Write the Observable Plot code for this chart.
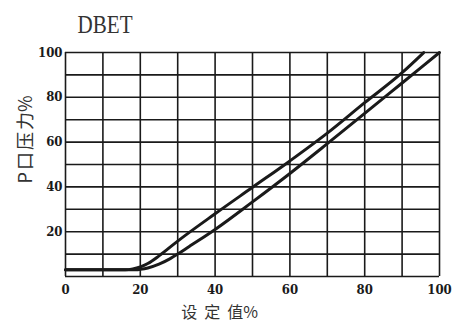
<!DOCTYPE html>
<html>
<head>
<meta charset="utf-8">
<script src="https://cdn.jsdelivr.net/npm/d3@7"></script>
<script src="https://cdn.jsdelivr.net/npm/@observablehq/plot@0.6"></script>
<style>
  html, body { margin: 0; padding: 0; background: #fff; }
</style>
</head>
<body>
<div id="chart"></div>
<script>
const title = "DBET";
const xLabel = "设定值%";
const yLabel = "P口压力%";
const xTicks = [0, 20, 40, 60, 80, 100];
const yTicks = [20, 40, 60, 80, 100];
const gridX = [0, 10, 20, 30, 40, 50, 60, 70, 80, 90, 100];
const gridY = [0, 10, 20, 30, 40, 50, 60, 70, 80, 90, 100];

// upper (left) curve
const upperX = [0, 16, 18, 20, 22, 25, 30, 40, 50, 60, 70, 80, 90, 95.8];
const upperY = [3, 3, 3.4, 4.3, 5.8, 9.2, 15.8, 28, 39.8, 51.6, 64, 77.6, 91, 100];
// lower (right) curve
const lowerX = [0, 19, 20, 22, 25, 28, 30, 33, 40, 50, 60, 70, 80, 90, 100];
const lowerY = [3, 3, 3.2, 3.8, 5.5, 8, 10, 13.3, 21, 33.3, 46, 59.3, 72.8, 86.4, 100];

const upper = upperX.map((x, i) => ({x, y: upperY[i]}));
const lower = lowerX.map((x, i) => ({x, y: lowerY[i]}));

const ink = "#1a1a1a";
const tickFont = "'DejaVu Serif Condensed', 'DejaVu Serif', serif";
const cjkFont = "'Noto Sans CJK SC', sans-serif";

const svg = Plot.plot({
  width: 456,
  height: 329,
  marginLeft: 65,
  marginRight: 17,
  marginTop: 52,
  marginBottom: 53,
  x: {domain: [0, 100]},
  y: {domain: [0, 100]},
  style: {background: "#fff", color: ink, overflow: "visible"},
  marks: [
    Plot.ruleX(gridX, {stroke: ink, strokeWidth: 1.6}),
    Plot.ruleY(gridY, {stroke: ink, strokeWidth: 1.6}),
    Plot.line(upper, {x: "x", y: "y", curve: "monotone-x", stroke: ink, strokeWidth: 3}),
    Plot.line(lower, {x: "x", y: "y", curve: "monotone-x", stroke: ink, strokeWidth: 3}),
    Plot.axisX(xTicks, {tickSize: 0, tickPadding: 8, label: null, fontSize: 13, fontWeight: "bold", fontFamily: tickFont, fill: ink}),
    Plot.axisY(yTicks, {tickSize: 0, tickPadding: 3, label: null, fontSize: 13, fontWeight: "bold", fontFamily: tickFont, fill: ink}),
    Plot.text([title], {frameAnchor: "top-left", text: d => d, dx: 12, dy: -20, lineAnchor: "bottom", textAnchor: "start", fontSize: 25, fontFamily: "'Liberation Serif', serif", fill: "#333"}),
    Plot.text([xLabel], {frameAnchor: "bottom", text: d => d, dx: -33, dy: 36, lineAnchor: "middle", fontSize: 16, fontFamily: cjkFont, fill: "#333"}),
    Plot.text([yLabel], {frameAnchor: "left", text: d => d, dx: -39, dy: 19, rotate: -90, lineAnchor: "middle", fontSize: 18, fontFamily: cjkFont, fill: "#333"})
  ]
});

const root = d3.select(svg);
root.selectAll("text").filter(function() { return this.textContent === title; })
  .attr("textLength", 55).attr("lengthAdjust", "spacingAndGlyphs");

// spaced CJK glyphs, with the trailing glyph pair kept tight
function spaceOut(label, head, tail, spacing) {
  root.selectAll("text").filter(function() { return this.textContent === label; })
    .each(function() {
      const t = d3.select(this);
      t.text(null);
      t.append("tspan").attr("letter-spacing", spacing).text(head);
      t.append("tspan").text(tail);
    });
}
spaceOut(xLabel, "设定", "值%", "7px");
spaceOut(yLabel, "P口压", "力%", "2px");

document.getElementById("chart").appendChild(svg);
</script>
</body>
</html>
